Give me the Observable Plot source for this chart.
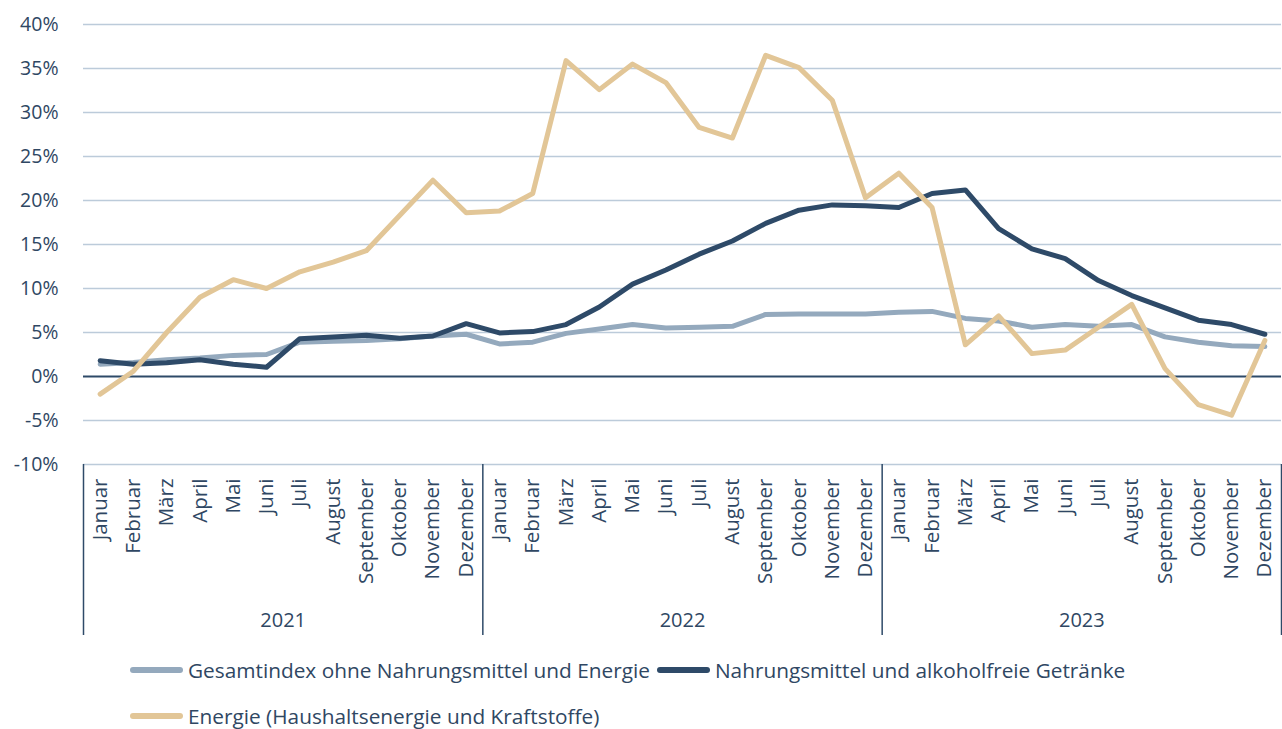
<!DOCTYPE html>
<html>
<head>
<meta charset="utf-8">
<script src="https://cdn.jsdelivr.net/npm/d3@7"></script>
<script src="https://cdn.jsdelivr.net/npm/@observablehq/plot@0.6"></script>
<style>
  html, body { margin: 0; padding: 0; background: #fff; }
  body { width: 1282px; font-family: "Open Sans", sans-serif; color: #2f4763; }
  .legend { padding-left: 130px; font-size: 20.8px; margin-top: 7px; }
  .row { display: flex; align-items: center; height: 46px; }
  .item { display: flex; align-items: center; margin-right: 7px; white-space: nowrap; }
  .sw { width: 53px; height: 6px; border-radius: 3px; margin-right: 5px; }
</style>
</head>
<body>
<div id="chart"></div>
<div class="legend" id="legend"></div>
<script>
const months = ["Januar","Februar","März","April","Mai","Juni","Juli","August","September","Oktober","November","Dezember"];
const years = ["2021","2022","2023"];
const seriesNames = [
  "Gesamtindex ohne Nahrungsmittel und Energie",
  "Nahrungsmittel und alkoholfreie Getränke",
  "Energie (Haushaltsenergie und Kraftstoffe)"
];
const colors = ["#94a9bd", "#2e4a68", "#e2c697"];

const core = [1.4, 1.6, 1.9, 2.1, 2.4, 2.5, 3.9, 4.0, 4.1, 4.3, 4.6, 4.8,
              3.7, 3.9, 4.9, 5.4, 5.9, 5.5, 5.6, 5.7, 7.05, 7.1, 7.1, 7.1,
              7.3, 7.4, 6.6, 6.3, 5.6, 5.9, 5.7, 5.9, 4.5, 3.9, 3.5, 3.4];
const food = [1.8, 1.4, 1.55, 1.9, 1.4, 1.05, 4.3, 4.5, 4.7, 4.35, 4.6, 6.0,
              4.95, 5.1, 5.9, 7.9, 10.5, 12.1, 13.9, 15.4, 17.4, 18.9, 19.5, 19.4,
              19.2, 20.8, 21.2, 16.8, 14.5, 13.4, 10.9, 9.2, 7.8, 6.4, 5.9, 4.8];
const energy = [-2.0, 0.6, 5.0, 9.0, 11.0, 10.0, 11.9, 13.0, 14.3, 18.3, 22.3, 18.6,
                18.8, 20.8, 35.9, 32.6, 35.5, 33.4, 28.3, 27.1, 36.5, 35.1, 31.4, 20.3,
                23.1, 19.2, 3.6, 6.9, 2.6, 3.0, 5.6, 8.2, 0.9, -3.2, -4.4, 4.1];
const yTicks = [-10, -5, 0, 5, 10, 15, 20, 25, 30, 35, 40];

const allSeries = [core, food, energy];
const rows = [];
allSeries.forEach((vals, s) => vals.forEach((v, i) => rows.push({i, v, s: seriesNames[s]})));

const monthTicks = d3.range(years.length * 12);
const yearBounds = d3.range(years.length + 1).map(k => k * 12 - 0.5);
const yearMids = years.map((y, k) => k * 12 + 5.5);

const chart = Plot.plot({
  width: 1282,
  height: 640,
  marginLeft: 83,
  marginRight: 1,
  marginTop: 24,
  marginBottom: 176,
  style: { fontFamily: "Open Sans", fontSize: "19px", color: "#2f4763", background: "#fff" },
  x: { type: "linear", domain: [-0.5, years.length * 12 - 0.5], label: null },
  y: { domain: [-10, 40], label: null },
  color: { domain: seriesNames, range: colors },
  marks: [
    Plot.gridY(yTicks.filter(d => d !== 0), { stroke: "#bccbda", strokeOpacity: 1, strokeWidth: 1.6 }),
    Plot.ruleY([0], { stroke: "#2e4a68", strokeWidth: 2 }),
    Plot.axisY({ ticks: yTicks, tickSize: 0, tickPadding: 25, tickFormat: d => d + "%", fontSize: 19.5, label: null }),
    Plot.axisX({ ticks: monthTicks, tickSize: 0, tickPadding: 14, tickRotate: -90,
                 tickFormat: i => months[i % 12], fontSize: 20.5, label: null }),
    Plot.axisX({ ticks: yearBounds, tickSize: 171, tickFormat: () => "", stroke: "#2e4a68", strokeWidth: 1.5, label: null }),
    Plot.axisX({ ticks: yearMids, tickSize: 0, tickPadding: 148,
                 tickFormat: d => years[Math.floor(d / 12)], fontSize: 20, label: null }),
    ...seriesNames.map(name => Plot.line(rows.filter(r => r.s === name), {
      x: "i", y: "v", stroke: "s", strokeWidth: 5, strokeLinejoin: "round", strokeLinecap: "round"
    }))
  ]
});
document.getElementById("chart").appendChild(chart);

const legend = document.getElementById("legend");
const groups = [[0, 1], [2]];
groups.forEach(g => {
  const row = document.createElement("div");
  row.className = "row";
  g.forEach(s => {
    const it = document.createElement("div");
    it.className = "item";
    const sw = document.createElement("div");
    sw.className = "sw";
    sw.style.background = colors[s];
    const t = document.createElement("span");
    t.textContent = seriesNames[s];
    it.appendChild(sw); it.appendChild(t);
    row.appendChild(it);
  });
  legend.appendChild(row);
});
</script>
</body>
</html>
